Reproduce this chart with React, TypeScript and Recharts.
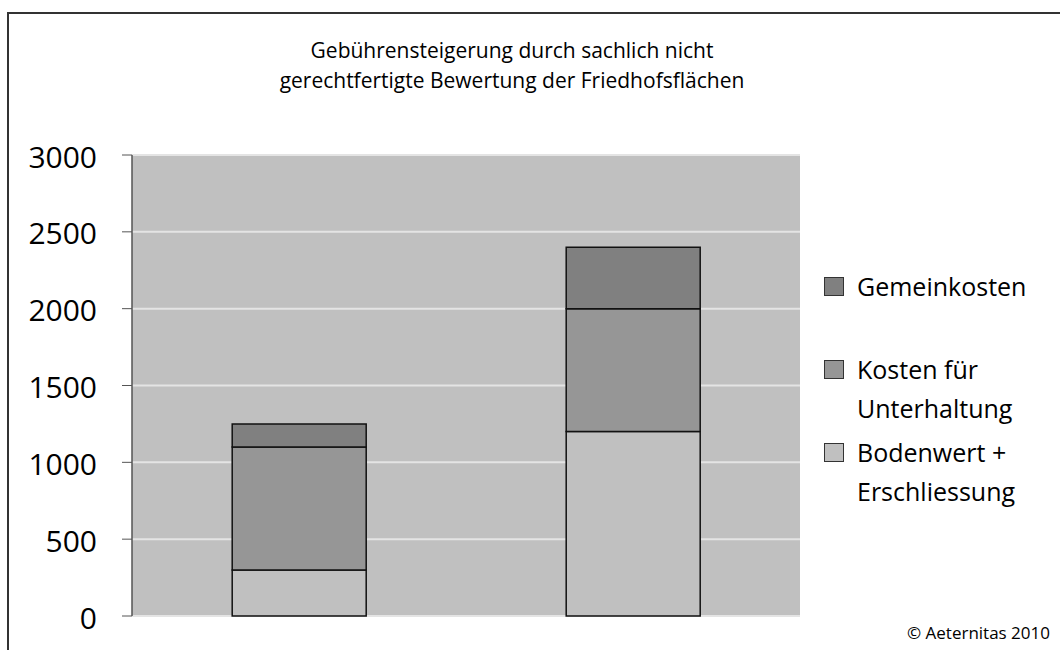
import React from "react";
import { BarChart, Bar, XAxis, YAxis, CartesianGrid, Legend } from "recharts";

const categories = ["ohne", "mit"];
const bodenwert = [300, 1200];
const unterhaltung = [800, 800];
const gemeinkosten = [150, 400];
const yTicks = [0, 500, 1000, 1500, 2000, 2500, 3000];

const seriesNames = {
  bodenwert: "Bodenwert +\nErschliessung",
  unterhaltung: "Kosten für\nUnterhaltung",
  gemeinkosten: "Gemeinkosten",
};
// legend shows the top segment first
const legendOrder = [seriesNames.gemeinkosten, seriesNames.unterhaltung, seriesNames.bodenwert];

const FONT = "'Open Sans', sans-serif";

const data = categories.map((name, i) => ({
  name,
  bodenwert: bodenwert[i],
  unterhaltung: unterhaltung[i],
  gemeinkosten: gemeinkosten[i],
}));

function LegendBox({ payload }: any) {
  const items = [...(payload || [])].sort(
    (a: any, b: any) => legendOrder.indexOf(a.value) - legendOrder.indexOf(b.value)
  );
  return (
    <div style={{ fontFamily: FONT, fontSize: 25, color: "#000" }}>
      {items.map((item: any) => (
        <div key={item.value} style={{ height: 83, display: "flex", alignItems: "flex-start" }}>
          <span
            style={{
              display: "inline-block",
              width: 18,
              height: 17,
              marginTop: 10,
              marginRight: 13,
              background: item.color,
              border: "1px solid #333",
              flexShrink: 0,
            }}
          />
          <div style={{ lineHeight: "39px", whiteSpace: "pre" }}>{item.value}</div>
        </div>
      ))}
    </div>
  );
}

export default function App() {
  return (
    <div style={{ position: "absolute", left: 0, top: 0, width: 1060, height: 650, background: "#fff", overflow: "hidden" }}>
      <div
        style={{
          position: "absolute",
          left: 7,
          top: 12,
          width: 1100,
          height: 700,
          borderLeft: "2px solid #333",
          borderTop: "2px solid #333",
        }}
      />
      <div
        style={{
          position: "absolute",
          left: 0,
          top: 35,
          width: 1024,
          textAlign: "center",
          fontFamily: FONT,
          fontSize: 21,
          lineHeight: "30px",
          color: "#000",
        }}
      >
        Gebührensteigerung durch sachlich nicht
        <br />
        gerechtfertigte Bewertung der Friedhofsflächen
      </div>
      <BarChart
        width={1060}
        height={650}
        data={data}
        margin={{ top: 155, right: 260, bottom: 34, left: 0 }}
        barCategoryGap="30%"
      >
        <CartesianGrid vertical={false} fill="#c0c0c0" stroke="#e4e4e4" strokeWidth={2} />
        <XAxis dataKey="name" height={0} tick={false} tickLine={false} axisLine={{ stroke: "#9a9a9a", strokeWidth: 2 }} />
        <YAxis
          domain={[0, 3000]}
          ticks={yTicks}
          width={132}
          tickSize={10}
          tickMargin={25}
          interval={0}
          tickLine={{ stroke: "#555" }}
          axisLine={{ stroke: "#555", strokeWidth: 1.5 }}
          tick={{ fontFamily: FONT, fontSize: 30, fill: "#000", dy: 2 }}
        />
        <YAxis
          yAxisId="right"
          orientation="right"
          width={0}
          domain={[0, 3000]}
          tick={false}
          tickLine={false}
          axisLine={{ stroke: "#9a9a9a", strokeWidth: 3 }}
        />
        <Legend
          layout="vertical"
          align="center"
          verticalAlign="middle"
          content={<LegendBox />}
          wrapperStyle={{ left: 824, top: 267, right: "auto", bottom: "auto", width: 236 }}
        />
        <Bar dataKey="bodenwert" name={seriesNames.bodenwert} stackId="a" fill="#c0c0c0" stroke="#111" strokeWidth={1.5} isAnimationActive={false} />
        <Bar dataKey="unterhaltung" name={seriesNames.unterhaltung} stackId="a" fill="#969696" stroke="#111" strokeWidth={1.5} isAnimationActive={false} />
        <Bar dataKey="gemeinkosten" name={seriesNames.gemeinkosten} stackId="a" fill="#808080" stroke="#111" strokeWidth={1.5} isAnimationActive={false} />
      </BarChart>
      <div
        style={{
          position: "absolute",
          left: 880,
          top: 621,
          width: 170,
          textAlign: "right",
          fontFamily: FONT,
          fontSize: 17,
          color: "#000",
          whiteSpace: "nowrap",
        }}
      >
        © Aeternitas 2010
      </div>
    </div>
  );
}
